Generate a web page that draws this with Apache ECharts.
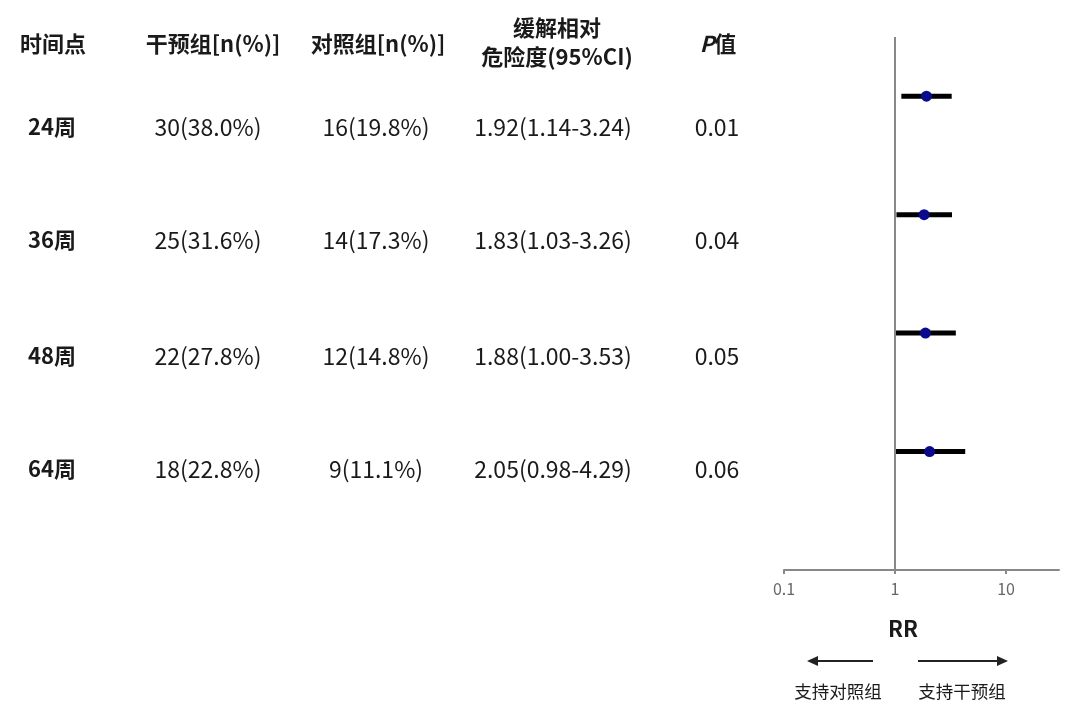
<!DOCTYPE html>
<html>
<head>
<meta charset="utf-8">
<script src="https://cdn.jsdelivr.net/npm/echarts@6/dist/echarts.min.js"></script>
<style>
html, body { margin: 0; padding: 0; background: #fff; }
#main { width: 1080px; height: 719px; }
</style>
</head>
<body>
<div id="main"></div>
<script>
var timePoints = ['24周', '36周', '48周', '64周'];
var interventionN = [30, 25, 22, 18];
var interventionPct = [38.0, 31.6, 27.8, 22.8];
var controlN = [16, 14, 12, 9];
var controlPct = [19.8, 17.3, 14.8, 11.1];
var rr = [1.92, 1.83, 1.88, 2.05];
var rrLow = [1.14, 1.03, 1.00, 0.98];
var rrHigh = [3.24, 3.26, 3.53, 4.29];
var pValues = ['0.01', '0.04', '0.05', '0.06'];
var xTicks = [0.1, 1, 10];

var font = '"Noto Sans CJK SC", "Noto Sans", sans-serif';
var rowY = [127, 240, 356, 469];   // 表格行的位置
var colX = [52, 208, 376, 553, 717];

var chart = echarts.init(document.getElementById('main'));

function txt(x, y, s, size, bold, extra) {
    var st = {
        text: s, x: x, y: y, align: 'center', verticalAlign: 'middle',
        font: (bold ? 'bold ' : '') + size + 'px ' + font,
        fill: '#1a1a1a'
    };
    if (extra) { for (var k in extra) st[k] = extra[k]; }
    return { type: 'text', silent: true, style: st };
}

var graphics = [
    txt(53, 44, '时间点', 22, true),
    txt(213, 44, '干预组[n(%)]', 22, true),
    txt(378, 44, '对照组[n(%)]', 22, true),
    txt(557, 28, '缓解相对', 22, true),
    txt(557, 57, '危险度(95%CI)', 22, true),
    txt(718, 44, '{i|P}{n|值}', 22, true, {
        rich: {
            i: { fontStyle: 'italic', fontWeight: 'bold', fontSize: 22, fontFamily: font, fill: '#1a1a1a' },
            n: { fontWeight: 'bold', fontSize: 22, fontFamily: font, fill: '#1a1a1a' }
        }
    })
];

timePoints.forEach(function (t, i) {
    graphics.push(txt(colX[0], rowY[i], t, 22, true));
    graphics.push(txt(colX[1], rowY[i], interventionN[i] + '(' + interventionPct[i].toFixed(1) + '%)', 23, false));
    graphics.push(txt(colX[2], rowY[i], controlN[i] + '(' + controlPct[i].toFixed(1) + '%)', 23, false));
    graphics.push(txt(colX[3], rowY[i], rr[i].toFixed(2) + '(' + rrLow[i].toFixed(2) + '-' + rrHigh[i].toFixed(2) + ')', 23, false));
    graphics.push(txt(colX[4], rowY[i], pValues[i], 23, false));
});

// 坐标轴下方的说明
graphics.push(txt(903, 629, 'RR', 22, true));
graphics.push({ type: 'line', silent: true, shape: { x1: 873, y1: 661, x2: 815, y2: 661 }, style: { stroke: '#222', lineWidth: 2 } });
graphics.push({ type: 'polygon', silent: true, shape: { points: [[807, 661], [818, 656], [818, 666]] }, style: { fill: '#222' } });
graphics.push({ type: 'line', silent: true, shape: { x1: 918, y1: 661, x2: 999, y2: 661 }, style: { stroke: '#222', lineWidth: 2 } });
graphics.push({ type: 'polygon', silent: true, shape: { points: [[1008, 661], [997, 656], [997, 666]] }, style: { fill: '#222' } });
graphics.push(txt(838, 691, '支持对照组', 17.5, false));
graphics.push(txt(962, 691, '支持干预组', 17.5, false));

var ciData = timePoints.map(function (t, i) { return [rrLow[i], rrHigh[i], i]; });
var pointData = timePoints.map(function (t, i) { return [rr[i], i]; });

var option = {
    animation: false,
    grid: { left: 784, right: 21, top: 37, bottom: 149 },
    xAxis: {
        type: 'log',
        logBase: 10,
        min: 0.1,
        max: 30,
        axisLine: { show: true, onZero: false, lineStyle: { color: '#888', width: 2 } },
        axisTick: { show: true, length: 4, customValues: xTicks, lineStyle: { color: '#888', width: 2 } },
        axisLabel: {
            customValues: xTicks,
            margin: 11,
            color: '#666',
            fontSize: 16,
            fontFamily: font,
            formatter: function (v) { return String(v); }
        },
        splitLine: { show: false }
    },
    yAxis: {
        type: 'value',
        min: -0.5,
        max: 4,
        inverse: true,
        show: false
    },
    graphic: graphics,
    series: [{
        type: 'custom',
        data: ciData,
        encode: { x: [0, 1], y: 2 },
        renderItem: function (params, api) {
            var a = api.coord([api.value(0), api.value(2)]);
            var b = api.coord([api.value(1), api.value(2)]);
            return {
                type: 'line',
                shape: { x1: a[0], y1: a[1], x2: b[0], y2: b[1] },
                style: { stroke: '#000', lineWidth: 5 }
            };
        },
        z: 2
    }, {
        type: 'scatter',
        data: pointData,
        symbol: 'circle',
        symbolSize: 11,
        itemStyle: { color: '#0a0a8c', opacity: 1 },
        z: 3,
        markLine: {
            silent: true,
            symbol: 'none',
            label: { show: false },
            lineStyle: { color: '#888', width: 2, type: 'solid' },
            data: [{ xAxis: 1 }]
        }
    }]
};
chart.setOption(option);
</script>
</body>
</html>
